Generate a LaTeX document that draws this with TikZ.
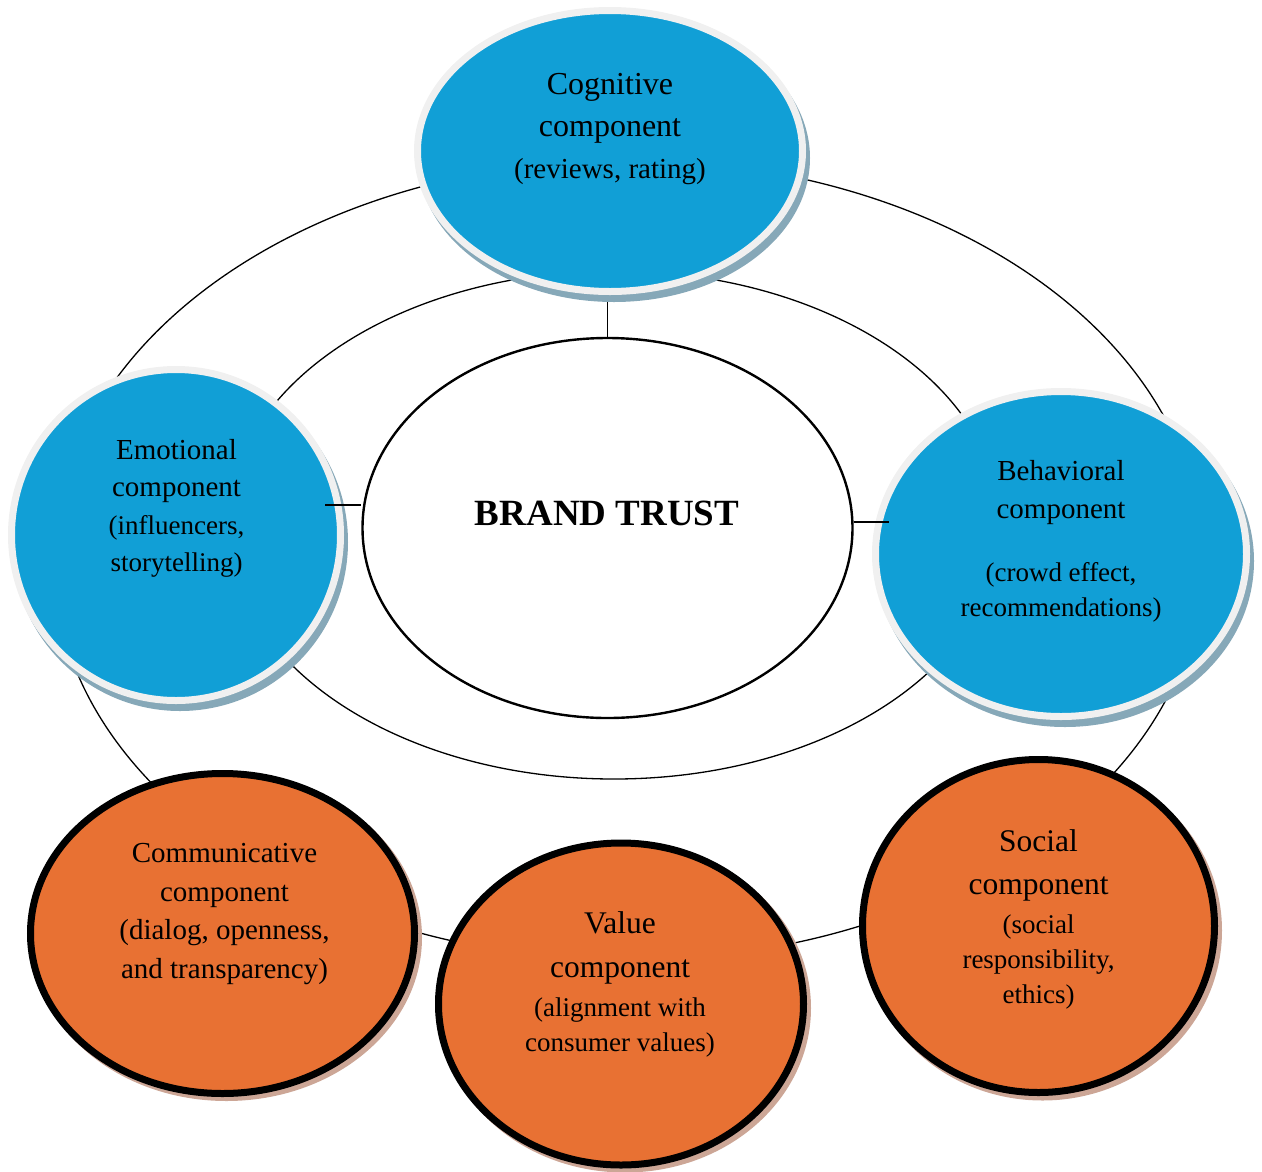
\documentclass[tikz,border=0pt]{standalone}
\usepackage{fontspec}
\setmainfont{Liberation Serif}
\usetikzlibrary{shapes.geometric}

\definecolor{bluefill}{RGB}{17,159,214}
\definecolor{blueshadow}{RGB}{134,168,184}
\definecolor{rimgray}{RGB}{240,240,240}
\definecolor{orangefill}{RGB}{232,113,51}
\definecolor{orangeshadow}{RGB}{204,166,150}

% line sizes inside the bubbles
\newcommand\midline[1]{{\fontsize{29}{38}\selectfont #1}}
\newcommand\smallline[1]{{\fontsize{27}{36}\selectfont #1}}

\begin{document}
\begin{tikzpicture}[x=1pt,y=-1pt,
  ring/.style={draw=black,line width=1.3pt},
  bluebub/.style={ellipse,fill=bluefill,draw=rimgray,line width=7pt,inner sep=0pt},
  orangebub/.style={ellipse,fill=orangefill,draw=black,line width=7pt,inner sep=0pt},
  core/.style={ellipse,fill=white,draw=black,line width=2.4pt,inner sep=0pt},
  tie/.style={draw=black,line width=1.5pt},
  txt/.style={align=center,inner sep=0pt,text=black}]

\useasboundingbox (0,0) rectangle (1262,1171);

% the two rings around the core
\draw[ring] (628,560) ellipse [x radius=574, y radius=400];
\draw[ring] (614,525) ellipse [x radius=386, y radius=254];

% core
\node[core,minimum width=490pt,minimum height=380pt] (trust) at (607.5,528) {};
\node[txt,font=\bfseries\fontsize{37}{44}\selectfont] (trusttxt) at (607,513) {BRAND TRUST};

% vertical tie, partly hidden below the top bubble
\draw[tie] (trust.north |- 0,200) -- (trust.north);

% shadows
\fill[blueshadow] (614,158) ellipse [x radius=196, y radius=144];
\fill[blueshadow] (180,542) ellipse [x radius=168, y radius=169];
\fill[blueshadow] (1065,561) ellipse [x radius=189, y radius=166];
\fill[orangeshadow] (226.5,937.5) ellipse [x radius=195.5, y radius=163.5];
\fill[orangeshadow] (625,1008) ellipse [x radius=186, y radius=164.5];
\fill[orangeshadow] (1042.5,930.5) ellipse [x radius=179.5, y radius=170];

% blue bubbles
\node[bluebub,minimum width=385pt,minimum height=281pt] (cog) at (610,151) {};
\node[bluebub,minimum width=329pt,minimum height=331pt] (emo) at (176,535) {};
\node[bluebub,minimum width=371pt,minimum height=325pt] (beh) at (1061,554) {};

% orange bubbles
\node[orangebub,minimum width=384pt,minimum height=320pt] (comm) at (222.5,933.5) {};
\node[orangebub,minimum width=365pt,minimum height=322pt] (val) at (621,1004) {};
\node[orangebub,minimum width=352pt,minimum height=333pt] (soc) at (1038.5,926) {};

% captions
\node[txt,font=\fontsize{32}{42}\selectfont] (cogtxt) at (610,129.5)
  {Cognitive\\component\\\midline{(reviews, rating)}};
\node[txt,font=\fontsize{29}{37.5}\selectfont] (emotxt) at (176.5,508.5)
  {Emotional\\component\\\smallline{(influencers,}\\\smallline{storytelling)}};
\node[txt,font=\fontsize{29}{38}\selectfont] (behtxt) at (1061,541)
  {Behavioral\\component\\[25pt]\smallline{(crowd effect,}\\[-3pt]\smallline{recommendations)}};
\node[txt,font=\fontsize{29}{38.5}\selectfont] (commtxt) at (224.5,914)
  {Communicative\\component\\(dialog, openness,\\and transparency)};
\node[txt,font=\fontsize{31.5}{44}\selectfont] (valtxt) at (620,984)
  {Value\\component\\[-5pt]\smallline{(alignment with}\\[-9pt]\smallline{consumer values)}};
\node[txt,font=\fontsize{31.5}{43}\selectfont] (soctxt) at (1038.5,919.5)
  {Social\\component\\[-4pt]\smallline{(social}\\[-8pt]\smallline{responsibility,}\\[-8pt]\smallline{ethics)}};

% side ties, laid over the bubble rims
\coordinate (emotip) at (325,505);
\coordinate (behtip) at (889,522);
\draw[tie] (emotip) -- (emotip -| trust.west);
\draw[tie] (trust.east |- behtip) -- (behtip);

\end{tikzpicture}
\end{document}
